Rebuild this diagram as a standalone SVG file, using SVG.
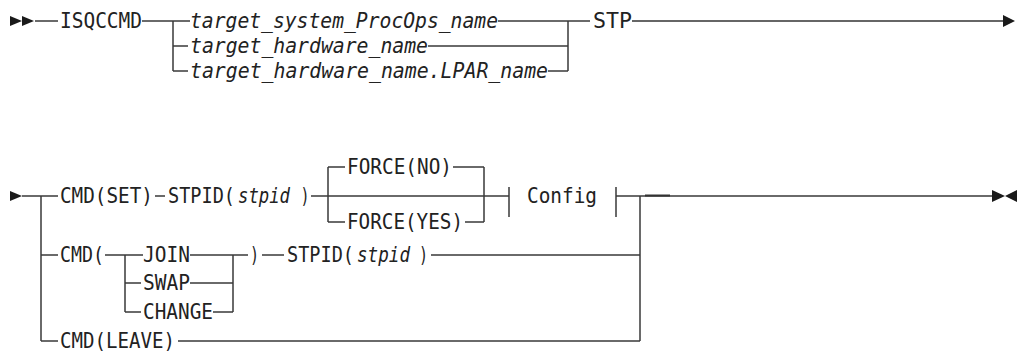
<svg xmlns="http://www.w3.org/2000/svg" width="1018" height="352" viewBox="0 0 1018 352">
<style>
text{font-family:"DejaVu Sans Mono","Liberation Mono",monospace;font-size:21px;fill:#222}
.i{font-style:italic}
.l{stroke:#3a3a3a;stroke-width:1.5;fill:none}
.a{fill:#1a1a1a}
</style>
<rect width="1018" height="352" fill="#fff"/>
<g id="connectors">
<path class="l" d="M35 21H58M142 21H190M173 21V71M173 46H188M173 71H188M498 21H590M428 46H568M548 71H568M568 21V71"/>
<path d="M632 21H1003" stroke="#666" stroke-width="2" fill="none"/>
<polygon class="a" points="10,16 22,21 10,26"/>
<polygon class="a" points="22,16 34,21 22,26"/>
<polygon class="a" points="1003,15 1015,21 1003,27"/>
<polygon class="a" points="10,191 22,196 10,201"/>
<path class="l" d="M22 196H58M41 196V341M155 196H165M311 196H509M328 167V222M328 167H345M328 222H345M453 167H484M465 222H484M484 167V222M509 187V217M616 187V217M616 196H992M640 196V341"/>
<path d="M645 195.5H670" stroke="#333" stroke-width="2"/>
<path class="l" d="M41 255H58M105 255H143M125 255V312M125 283H141M125 312H141M190 255H248M190 283H233M213 312H233M233 255V312M262 255H284M431 255H640M41 341H58M178 341H640"/>
<polygon class="a" points="992,190 1005,196 992,202"/>
<polygon class="a" points="1017,190 1005,196 1017,202"/>
</g>
<g id="n-isqccmd"><text x="60" y="28" textLength="82" lengthAdjust="spacingAndGlyphs">ISQCCMD</text></g>
<g id="n-procops"><text class="i" x="190" y="28" textLength="308" lengthAdjust="spacingAndGlyphs">target_system_ProcOps_name</text></g>
<g id="n-hw"><text class="i" x="190" y="53" textLength="238" lengthAdjust="spacingAndGlyphs">target_hardware_name</text></g>
<g id="n-lpar"><text class="i" x="190" y="78" textLength="358" lengthAdjust="spacingAndGlyphs">target_hardware_name.LPAR_name</text></g>
<g id="n-stp"><text x="593" y="28" textLength="39" lengthAdjust="spacingAndGlyphs">STP</text></g>
<g id="n-cmdset"><text x="60" y="203" textLength="93" lengthAdjust="spacingAndGlyphs">CMD(SET)</text></g>
<g id="n-stpid1">
<text x="168" y="203" textLength="67" lengthAdjust="spacingAndGlyphs">STPID(</text>
<text class="i" x="238" y="203" textLength="52" lengthAdjust="spacingAndGlyphs">stpid</text>
<text x="300.5" y="203" textLength="9" lengthAdjust="spacingAndGlyphs">)</text>
</g>
<g id="n-forceno"><text x="347" y="174" textLength="105" lengthAdjust="spacingAndGlyphs">FORCE(NO)</text></g>
<g id="n-forceyes"><text x="347" y="229" textLength="116" lengthAdjust="spacingAndGlyphs">FORCE(YES)</text></g>
<g id="n-config"><text x="527" y="203" textLength="70" lengthAdjust="spacingAndGlyphs">Config</text></g>
<g id="n-cmdopen"><text x="60" y="262" textLength="44" lengthAdjust="spacingAndGlyphs">CMD(</text></g>
<g id="n-join"><text x="143" y="262" textLength="47" lengthAdjust="spacingAndGlyphs">JOIN</text></g>
<g id="n-swap"><text x="143" y="290" textLength="47" lengthAdjust="spacingAndGlyphs">SWAP</text></g>
<g id="n-change"><text x="143" y="319" textLength="70" lengthAdjust="spacingAndGlyphs">CHANGE</text></g>
<g id="n-close"><text x="250" y="262" textLength="9" lengthAdjust="spacingAndGlyphs">)</text></g>
<g id="n-stpid2">
<text x="287" y="262" textLength="67" lengthAdjust="spacingAndGlyphs">STPID(</text>
<text class="i" x="357" y="262" textLength="53" lengthAdjust="spacingAndGlyphs">stpid</text>
<text x="419" y="262" textLength="9" lengthAdjust="spacingAndGlyphs">)</text>
</g>
<g id="n-leave"><text x="60" y="348" textLength="115" lengthAdjust="spacingAndGlyphs">CMD(LEAVE)</text></g>
</svg>
